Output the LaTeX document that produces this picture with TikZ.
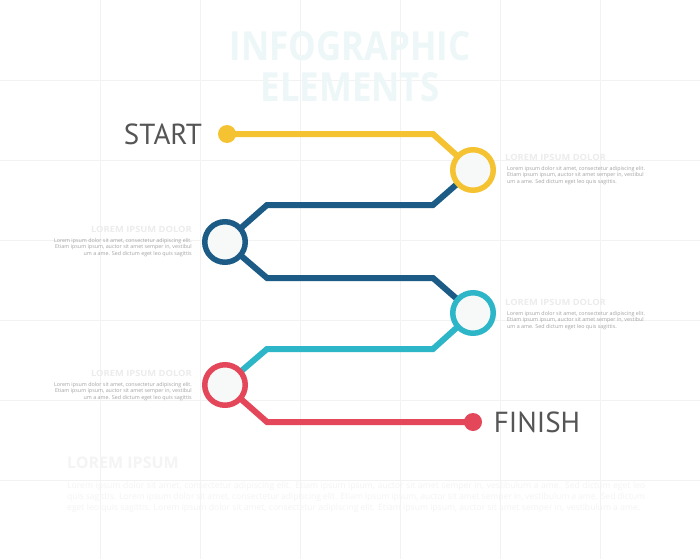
\documentclass[tikz,border=0pt]{standalone}
\usepackage{fontspec}
\setmainfont{Open Sans}
\newfontfamily\labelfont{PT Sans}
\usetikzlibrary{backgrounds}
\definecolor{cyel}{HTML}{F5C232}
\definecolor{cblu}{HTML}{1C5B86}
\definecolor{ctea}{HTML}{2DB6C7}
\definecolor{cred}{HTML}{E4465A}
\definecolor{gridc}{HTML}{F2F2F2}
\definecolor{ringfill}{HTML}{F7F9F9}
\definecolor{headc}{HTML}{EDF7F8}
\definecolor{labc}{HTML}{555555}
\definecolor{bodyc}{HTML}{A2A2A2}
\definecolor{titc}{HTML}{ECECEC}
\definecolor{faintc}{HTML}{F4F4F4}
\pgfdeclarelayer{gridlayer}
\pgfdeclarelayer{linelayer}
\pgfsetlayers{gridlayer,linelayer,main}
\tikzset{
  ring/.style={circle, draw=#1, line width=5.5pt, fill=ringfill, minimum size=40.5pt, inner sep=0pt},
  enddot/.style={circle, fill=#1, minimum size=18pt, inner sep=0pt},
  route/.style={draw=#1, line width=6pt, line join=miter},
  bigword/.style={font=\labelfont\fontsize{29}{32}\selectfont, text=labc, inner sep=0pt},
  bodytext/.style={font=\fontsize{5.35}{6.7}\selectfont, text=bodyc, inner sep=0pt},
  smalltitle/.style={font=\bfseries\fontsize{8.5}{9}\selectfont, text=titc, inner sep=0pt},
  gridline/.style={draw=gridc, line width=0.7pt},
}
\begin{document}
\begin{tikzpicture}[x=1pt,y=-1pt]
\useasboundingbox (0,0) rectangle (700,559);
\begin{pgfonlayer}{gridlayer}
  \fill[white] (0,0) rectangle (700,559);
  \foreach \gx in {100,200,...,600} {\draw[gridline] (\gx,0) -- (\gx,559);}
  \foreach \gy in {80,160,...,480} {\draw[gridline] (0,\gy) -- (700,\gy);}
\end{pgfonlayer}

% heading
\node[font=\bfseries\fontsize{40}{44}\selectfont, text=headc, inner sep=0pt] (head1) at (350,46) {\scalebox{0.87}[1]{INFOGRAPHIC}};
\node[font=\bfseries\fontsize{40}{44}\selectfont, text=headc, inner sep=0pt] (head2) at (350,87) {\scalebox{0.87}[1]{ELEMENTS}};

% start / finish
\node[bigword] (start) at (163,134) {START};
\node[enddot=cyel] (startdot) at (227,134) {};
\node[enddot=cred] (finishdot) at (473,422) {};
\node[bigword] (finish) at (537,422) {FINISH};

% rings
\node[ring=cyel] (ringY) at (473,170) {};
\node[ring=cblu] (ringB) at (225,242) {};
\node[ring=ctea] (ringT) at (473,313) {};
\node[ring=cred] (ringR) at (225,385) {};

% bends
\coordinate (b1) at (433,134);
\coordinate (b2) at (433,205);
\coordinate (b3) at (267,205);
\coordinate (b4) at (267,278);
\coordinate (b5) at (433,278);
\coordinate (b6) at (433,349);
\coordinate (b7) at (267,349);
\coordinate (b8) at (267,422);

\begin{pgfonlayer}{linelayer}
  \path[route=cyel] (startdot.center) -- (b1) -- (ringY.center);
  \path[route=cblu] (ringY.center) -- (b2) -- (b3) -- (ringB.center) -- (b4) -- (b5) -- (ringT.center);
  \path[route=ctea] (ringT.center) -- (b6) -- (b7) -- (ringR.center);
  \path[route=cred] (ringR.center) -- (b8) -- (finishdot.center);
\end{pgfonlayer}

% text blocks
\node[smalltitle, anchor=west] (t1) at (505,157) {\scalebox{1.1}[1]{LOREM IPSUM DOLOR}};
\node[bodytext, anchor=north west, align=left] (p1) at (507,166) {Lorem ipsum dolor sit amet, consectetur adipiscing elit.\\Etiam ipsum ipsum, auctor sit amet semper in, vestibul\\um a ame. Sed dictum eget leo quis sagittis.};

\node[smalltitle, anchor=east] (t2) at (192,229) {\scalebox{1.1}[1]{LOREM IPSUM DOLOR}};
\node[bodytext, anchor=north east, align=right] (p2) at (192,238) {Lorem ipsum dolor sit amet, consectetur adipiscing elit.\\Etiam ipsum ipsum, auctor sit amet semper in, vestibul\\um a ame. Sed dictum eget leo quis sagittis};

\node[smalltitle, anchor=west] (t3) at (505,302) {\scalebox{1.1}[1]{LOREM IPSUM DOLOR}};
\node[bodytext, anchor=north west, align=left] (p3) at (507,311) {Lorem ipsum dolor sit amet, consectetur adipiscing elit.\\Etiam ipsum ipsum, auctor sit amet semper in, vestibul\\um a ame. Sed dictum eget leo quis sagittis.};

\node[smalltitle, anchor=east] (t4) at (192,373) {\scalebox{1.1}[1]{LOREM IPSUM DOLOR}};
\node[bodytext, anchor=north east, align=right] (p4) at (192,382) {Lorem ipsum dolor sit amet, consectetur adipiscing elit.\\Etiam ipsum ipsum, auctor sit amet semper in, vestibul\\um a ame. Sed dictum eget leo quis sagittis};

% bottom paragraph
\node[font=\bfseries\fontsize{16}{18}\selectfont, text=faintc, inner sep=0pt, anchor=west] (t5) at (67,463) {LOREM IPSUM};
\node[font=\fontsize{8.6}{11}\selectfont, text=faintc, inner sep=0pt, anchor=north west, text width=578pt, align=justify] (p5) at (67,482) {Lorem ipsum dolor sit amet, consectetur adipiscing elit. Etiam ipsum ipsum, auctor sit amet semper in, vestibulum a ame. Sed dictum eget leo quis sagittis. Lorem ipsum dolor sit amet, consectetur adipiscing elit. Etiam ipsum ipsum, auctor sit amet semper in, vestibulum a ame. Sed dictum eget leo quis sagittis. Lorem ipsum dolor sit amet, consectetur adipiscing elit. Etiam ipsum ipsum, auctor sit amet semper in, vestibulum a ame.};
\end{tikzpicture}
\end{document}
